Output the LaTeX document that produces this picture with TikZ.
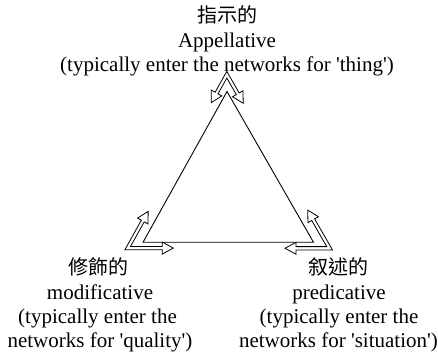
\documentclass[tikz,border=0pt]{standalone}
\usepackage{fontspec}
\setmainfont{Liberation Serif}
\newfontfamily\cjk{Noto Sans CJK TC}
\usetikzlibrary{calc}

\tikzset{
  lbl/.style={anchor=base, inner sep=0pt, font=\fontsize{21}{24}\selectfont},
  cjklbl/.style={anchor=base, inner sep=0pt, font=\fontsize{20}{24}\selectfont\cjk},
  triline/.style={line width=0.9pt, line join=miter},
  hollow/.style={draw=black, fill=white, line width=0.8pt, line join=miter, miter limit=10},
}

\newcommand{\hbShaft}{1.65}
\newcommand{\hbHalf}{6}
\newcommand{\hbLen}{11}
% #1 corner, #2 angle of arm 1, #3 angle of arm 2 (#3>#2), #4 length 1, #5 length 2
\newcommand{\hollowbent}[5]{%
  \pgfmathsetmacro{\hbBis}{(#2+#3)/2}%
  \pgfmathsetmacro{\hbMit}{\hbShaft/sin((#3-#2)/2)}%
  \draw[hollow] ($(#1)+(#2:#4)$)
   -- ($(#1)+(#2:#4-\hbLen)+(#2+90:\hbHalf)$)
   -- ($(#1)+(#2:#4-\hbLen)+(#2+90:\hbShaft)$)
   -- ($(#1)+(\hbBis:\hbMit)$)
   -- ($(#1)+(#3:#5-\hbLen)+(#3-90:\hbShaft)$)
   -- ($(#1)+(#3:#5-\hbLen)+(#3-90:\hbHalf)$)
   -- ($(#1)+(#3:#5)$)
   -- ($(#1)+(#3:#5-\hbLen)+(#3+90:\hbHalf)$)
   -- ($(#1)+(#3:#5-\hbLen)+(#3+90:\hbShaft)$)
   -- ($(#1)+(\hbBis+180:\hbMit)$)
   -- ($(#1)+(#2:#4-\hbLen)+(#2-90:\hbShaft)$)
   -- ($(#1)+(#2:#4-\hbLen)+(#2-90:\hbHalf)$)
   -- cycle;}

\begin{document}
\begin{tikzpicture}[x=1pt,y=1pt]
\useasboundingbox (0,0) rectangle (438,355);

% triangle
\coordinate (A) at (227,263.5);
\coordinate (B) at (143,112.7);
\coordinate (C) at (313.5,112.7);
\draw[triline] (A) -- (B) -- (C) -- cycle;

% bent double arrows at the corners
\coordinate (TopC) at (226.8,280.3);
\coordinate (LeftC) at (127.7,106.9);
\coordinate (RightC) at (329.6,106.7);
\hollowbent{TopC}{240.88}{299.84}{32}{33}
\hollowbent{LeftC}{0}{60.88}{45.6}{42}
\hollowbent{RightC}{119.84}{180}{44}{44.6}

% labels
\node[cjklbl] (t1) at (227,332) {指示的};
\node[lbl] (t2) at (227,307) {Appellative};
\node[lbl] (t3) at (227,283.5) {(typically enter the networks for \textquotesingle thing\textquotesingle)};

\node[cjklbl] (l1) at (98,80) {修飾的};
\node[lbl] (l2) at (100,55) {modificative};
\node[lbl] (l3) at (97.5,31.7) {(typically enter the};
\node[lbl] (l4) at (100,7.7) {networks for \textquotesingle quality\textquotesingle)};

\node[cjklbl] (r1) at (338.5,80) {叙述的};
\node[lbl] (r2) at (339,55) {predicative};
\node[lbl] (r3) at (339,31.7) {(typically enter the};
\node[lbl] (r4) at (338.5,7.7) {networks for \textquotesingle situation\textquotesingle)};
\end{tikzpicture}
\end{document}
